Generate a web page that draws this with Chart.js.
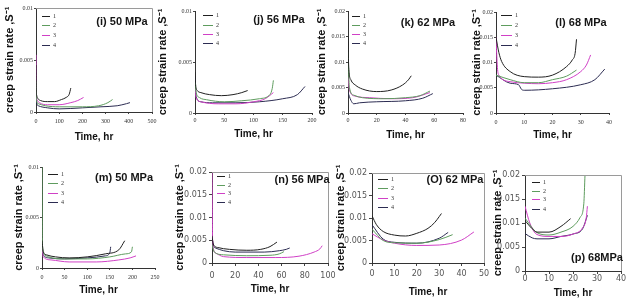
<!DOCTYPE html>
<html>
<head>
<meta charset="utf-8">
<script src="https://cdn.jsdelivr.net/npm/chart.js@4.4.0/dist/chart.umd.min.js"></script>
<style>
html, body { margin: 0; padding: 0; background: #fff; overflow: hidden; width: 627px; height: 306px; }
canvas { position: absolute; }
</style>
</head>
<body>
<canvas id="ci"></canvas>
<canvas id="cj"></canvas>
<canvas id="ck"></canvas>
<canvas id="cl"></canvas>
<canvas id="cm"></canvas>
<canvas id="cn"></canvas>
<canvas id="co"></canvas>
<canvas id="cp"></canvas>
<script>
// specimen numbers and line colours
const seriesNames = ['1', '2', '3', '4'];
const colours = ['#202020', '#5e9c5e', '#d040c6', '#2c2c52'];

// [time hr, creep strain rate s^-1]
// (i) 50 MPa
const i1 = [[0,0.0045],[1,0.0022],[3,0.0016],[8,0.0013],[20,0.0011],[50,0.001],[80,0.001],[110,0.0012],[130,0.0014],[143,0.0017],[150,0.0023]];
const i2 = [[0,0.003],[2,0.0012],[10,0.0008],[40,0.0006],[100,0.0005],[200,0.0005],[270,0.0006],[310,0.0009],[330,0.0012]];
const i3 = [[0,0.0055],[1,0.002],[4,0.0012],[15,0.0009],[50,0.0007],[100,0.0007],[150,0.0009],[180,0.0011],[205,0.0014]];
const i4 = [[0,0.0025],[2,0.001],[10,0.0006],[50,0.0004],[100,0.0003],[200,0.0004],[280,0.0005],[350,0.0006],[390,0.0008],[405,0.0009]];
// (j) 56 MPa
const j1 = [[0,0.004],[1,0.0028],[4,0.0022],[10,0.002],[25,0.0018],[45,0.0017],[65,0.0018],[80,0.002],[90,0.0022]];
const j2 = [[0,0.003],[2,0.002],[8,0.0015],[20,0.0013],[50,0.0011],[80,0.0012],[110,0.0014],[128,0.0018],[132,0.0024],[134,0.0032]];
const j3 = [[0,0.0025],[2,0.0015],[10,0.0011],[40,0.0009],[70,0.0009],[100,0.0011],[120,0.0014],[134,0.002]];
const j4 = [[0,0.0035],[2,0.0016],[10,0.0011],[30,0.001],[70,0.001],[110,0.0011],[150,0.0014],[175,0.0018],[188,0.0026]];
// (k) 62 MPa
const k1 = [[0,0.015],[0.5,0.009],[2,0.0065],[5,0.0055],[10,0.0047],[20,0.0042],[30,0.0045],[38,0.0055],[42,0.0065],[44,0.0073]];
const k2 = [[0,0.012],[1,0.005],[4,0.0035],[10,0.003],[25,0.0028],[40,0.003],[50,0.0034],[57,0.0043]];
const k3 = [[0,0.007],[1,0.0045],[5,0.0033],[15,0.003],[30,0.0028],[45,0.003],[57,0.004]];
const k4 = [[0,0.004],[2,0.0025],[4,0.0018],[8,0.002],[20,0.0022],[40,0.0024],[52,0.0029],[59,0.0038]];
// (l) 68 MPa
const l1 = [[0,0.015],[1,0.012],[2,0.0102],[5,0.0082],[10,0.0072],[15,0.0071],[20,0.0075],[25,0.0092],[27,0.0105],[28,0.0118],[28.5,0.0146]];
const l2 = [[0,0.0075],[5,0.0066],[10,0.006],[15,0.006],[20,0.0066],[25,0.0073],[28.5,0.0085]];
const l3 = [[0,0.015],[0.5,0.009],[1,0.0075],[5,0.0062],[10,0.0059],[15,0.0058],[20,0.006],[25,0.0066],[30,0.0082],[32,0.0095],[33.5,0.0115]];
const l4 = [[0,0.0075],[5,0.0059],[8,0.0056],[9,0.0047],[10,0.0045],[20,0.0048],[30,0.0056],[35,0.0066],[38.5,0.0087]];
// (m) 50 MPa
const m1 = [[0,0.0027],[3,0.0016],[10,0.0013],[30,0.0011],[60,0.001],[100,0.0011],[140,0.0014],[170,0.0018],[183,0.0027]];
const m2 = [[0,0.01],[0.5,0.003],[3,0.0015],[15,0.0011],[50,0.0009],[100,0.0009],[150,0.0011],[185,0.0014],[198,0.0016],[200,0.0021]];
const m3 = [[0,0.002],[3,0.0011],[20,0.0008],[60,0.0006],[120,0.0006],[170,0.0008],[195,0.001],[208,0.0012]];
const m4 = [[0,0.0022],[3,0.0013],[15,0.001],[50,0.0009],[100,0.001],[140,0.0012],[150,0.0015],[152,0.0021]];
// (n) 56 MPa
const n1 = [[0,0.006],[1,0.0042],[5,0.0034],[15,0.003],[30,0.0028],[42,0.003],[50,0.0036],[56,0.0046]];
const n2 = [[0,0.004],[2,0.0024],[10,0.0018],[30,0.0016],[50,0.0017],[58,0.002],[62,0.0025]];
const n3 = [[0,0.02],[0.5,0.005],[3,0.0022],[10,0.0014],[30,0.0012],[55,0.0012],[75,0.0015],[88,0.0024],[93,0.0031],[95,0.0038]];
const n4 = [[0,0.012],[0.5,0.005],[3,0.0033],[10,0.0027],[20,0.0024],[45,0.0024],[58,0.0027],[64,0.003],[67,0.0033]];
// (O) 62 MPa
const o1 = [[0,0.0105],[2,0.0085],[5,0.007],[10,0.0062],[15,0.006],[20,0.0066],[25,0.0077],[28,0.009],[30,0.0103],[31,0.011]];
const o2 = [[0,0.0075],[5,0.005],[10,0.0045],[20,0.0044],[30,0.0052],[36,0.0063]];
const o3 = [[0,0.0065],[5,0.0051],[10,0.0044],[20,0.0039],[30,0.004],[40,0.0051],[45.5,0.0069]];
const o4 = [[0,0.0085],[5,0.0053],[10,0.0046],[20,0.0044],[30,0.0055],[34,0.0068]];
// (p) 68 MPa
const p1 = [[0,0.0105],[3,0.0088],[5,0.0081],[10,0.0081],[15,0.0093],[19,0.0109]];
const p2 = [[0,0.011],[5,0.008],[10,0.0075],[15,0.0081],[20,0.0093],[23,0.0112],[24.5,0.014],[25,0.02]];
const p3 = [[0,0.0135],[2,0.01],[5,0.0076],[10,0.0072],[15,0.0072],[20,0.0077],[24,0.009],[25.5,0.011],[26,0.0135]];
const p4 = [[0,0.0078],[3,0.0069],[5,0.0067],[10,0.0067],[15,0.0072],[20,0.0077],[24,0.0088],[26,0.0116]];

// page layout of each panel (plot box L/R/T/B in page pixels)
const panels = [
  {id:'ci', data:[i1,i2,i3,i4], xMax:500, xStep:100, yMax:0.01, yStep:0.005, L:36, R:152, T:8, B:112,
   yTitleX:10, xLabelY:121, xTitleY:137, label:'(i) 50 MPa', labelX:122, labelY:22, leg:[42,50], legRows:[15.5,25,35,45], box:true, style:'serif'},
  {id:'cj', data:[j1,j2,j3,j4], xMax:200, xStep:50, yMax:0.01, yStep:0.005, L:195, R:312, T:11, B:113,
   yTitleX:163, xLabelY:120, xTitleY:134, label:'(j) 56 MPa', labelX:279, labelY:20, leg:[203,213], legRows:[15,25,34,43], box:false, style:'serif'},
  {id:'ck', data:[k1,k2,k3,k4], xMax:80, xStep:20, yMax:0.02, yStep:0.005, L:348, R:463, T:11, B:113,
   yTitleX:322, xLabelY:120, xTitleY:135, label:'(k) 62 MPa', labelX:428, labelY:23, leg:[352,360], legRows:[15.7,25,34,43.3], box:false, style:'serif'},
  {id:'cl', data:[l1,l2,l3,l4], xMax:40, xStep:10, yMax:0.02, yStep:0.005, L:496, R:609, T:12, B:113,
   yTitleX:477, xLabelY:122, xTitleY:135, label:'(l) 68 MPa', labelX:581, labelY:23, leg:[501,512], legRows:[15,25,35,45], box:false, style:'serif'},
  {id:'cm', data:[m1,m2,m3,m4], xMax:250, xStep:50, yMax:0.01, yStep:0.005, L:42, R:155, T:167, B:268,
   yTitleX:19, xLabelY:277, xTitleY:290, label:'(m) 50 MPa', labelX:124, labelY:178, leg:[48,58], legRows:[174,183.3,192.7,201.7], box:false, style:'serif'},
  {id:'cn', data:[n1,n2,n3,n4], xMax:100, xStep:20, yMax:0.02, yStep:0.005, L:212, R:328, T:172, B:263,
   yTitleX:180, xLabelY:276, xTitleY:289, label:'(n) 56 MPa', labelX:302, labelY:180, leg:[217,225], legRows:[176,184.5,193,201.5], box:true, style:'sans'},
  {id:'co', data:[o1,o2,o3,o4], xMax:50, xStep:10, yMax:0.02, yStep:0.005, L:372, R:484, T:173, B:263,
   yTitleX:341, xLabelY:274, xTitleY:292, label:'(O) 62 MPa', labelX:455, labelY:180, leg:[378,388], legRows:[179.3,188.3,197.7,207.3], box:true, style:'sans'},
  {id:'cp', data:[p1,p2,p3,p4], xMax:40, xStep:10, yMax:0.02, yStep:0.005, L:525, R:621, T:175, B:271,
   yTitleX:498, xLabelY:279, xTitleY:293, label:'(p) 68MPa', labelX:597, labelY:258, leg:[532,540], legRows:[181.7,190.7,199.3,209.3], box:true, style:'sans'}
];

function fmtRate(v) {
  return v === 0 ? '0' : String(+v.toFixed(3));
}

function decor(p, cl, ct) {
  return {
    id: 'decor',
    afterDraw(chart) {
      const ctx = chart.ctx, a = chart.chartArea;
      ctx.save();
      if (p.box) {
        ctx.strokeStyle = '#9a9a9a';
        ctx.lineWidth = 1;
        ctx.beginPath();
        ctx.moveTo(a.left, Math.round(a.top) + 0.5);
        ctx.lineTo(Math.round(a.right) + 0.5, Math.round(a.top) + 0.5);
        ctx.lineTo(Math.round(a.right) + 0.5, a.bottom);
        ctx.stroke();
      }
      // little legend inside the plot
      chart.data.datasets.forEach((ds, k) => {
        const y = Math.round(p.legRows[k] - ct) + 0.5;
        ctx.strokeStyle = ds.borderColor;
        ctx.lineWidth = 1;
        ctx.beginPath();
        ctx.moveTo(p.leg[0] - cl, y);
        ctx.lineTo(p.leg[1] - cl, y);
        ctx.stroke();
        ctx.fillStyle = '#333';
        ctx.font = '6px "Liberation Serif"';
        ctx.textAlign = 'left';
        ctx.textBaseline = 'middle';
        ctx.fillText(ds.label, p.leg[1] - cl + 3, y);
      });
      ctx.fillStyle = '#151515';
      ctx.font = 'bold 11px "Liberation Sans"';
      ctx.textAlign = 'center';
      ctx.textBaseline = 'middle';
      ctx.fillText(p.label, p.labelX - cl, p.labelY - ct);
      ctx.restore();
    }
  };
}

panels.forEach(p => {
  const serif = p.style === 'serif';
  const tickFont = serif ? {family: 'Liberation Serif', size: 6} : {family: 'DejaVu Sans', size: 8};
  const tickColour = serif ? '#333' : '#555';
  const tickLen = serif ? 2 : 3;
  const cl = Math.max(0, Math.round(p.yTitleX - 8));
  const ct = Math.max(0, p.T - 9);
  const cr = Math.min(627, p.R + 14);
  const cb = Math.min(306, Math.round(p.xTitleY + 8));
  const canvas = document.getElementById(p.id);
  canvas.width = cr - cl;
  canvas.height = cb - ct;
  canvas.style.left = cl + 'px';
  canvas.style.top = ct + 'px';

  const yTitlePad = Math.max(0, p.yTitleX - cl - 6.6);
  const xTitlePad = Math.max(0, cb - 6 - p.xTitleY);
  const xTickPad = Math.max(0, p.xLabelY - p.B - tickLen - tickFont.size * 0.6);

  new Chart(canvas, {
    type: 'scatter',
    data: {
      datasets: p.data.map((pts, k) => ({
        label: seriesNames[k],
        data: pts.map(([x, y]) => ({x, y})),
        borderColor: colours[k],
        backgroundColor: colours[k],
        showLine: true,
        pointRadius: 0,
        borderWidth: 1,
        cubicInterpolationMode: 'monotone'
      }))
    },
    options: {
      responsive: false,
      animation: false,
      devicePixelRatio: 1,
      layout: {padding: {left: 0, top: p.T - ct, right: cr - p.R, bottom: 0}},
      plugins: {legend: {display: false}, tooltip: {enabled: false}},
      scales: {
        x: {
          type: 'linear', min: 0, max: p.xMax,
          ticks: {stepSize: p.xStep, font: tickFont, color: tickColour, padding: xTickPad, maxRotation: 0, autoSkip: false},
          grid: {display: true, drawOnChartArea: false, drawTicks: true, tickLength: tickLen, color: '#444'},
          border: {display: true, color: '#333', width: 1},
          title: {display: true, text: 'Time, hr', color: '#111',
                  font: {family: 'Liberation Sans', weight: 'bold', size: 10}, padding: {top: 0, bottom: xTitlePad}},
          afterFit(s) { s.height = cb - p.B; }
        },
        y: {
          type: 'linear', min: 0, max: p.yMax,
          ticks: {stepSize: p.yStep, font: tickFont, color: tickColour, padding: serif ? 1 : 2, callback: fmtRate},
          grid: {display: true, drawOnChartArea: false, drawTicks: true, tickLength: tickLen, color: '#444'},
          border: {display: true, color: '#333', width: 1},
          title: {display: true, text: 'creep strain rate ,S\u207B\u00B9', color: '#111',
                  font: {family: 'Liberation Sans', weight: 'bold', size: 11}, padding: {top: yTitlePad, bottom: 0}},
          afterFit(s) { s.width = p.L - cl; }
        }
      }
    },
    plugins: [decor(p, cl, ct)]
  });
});
</script>
</body>
</html>
